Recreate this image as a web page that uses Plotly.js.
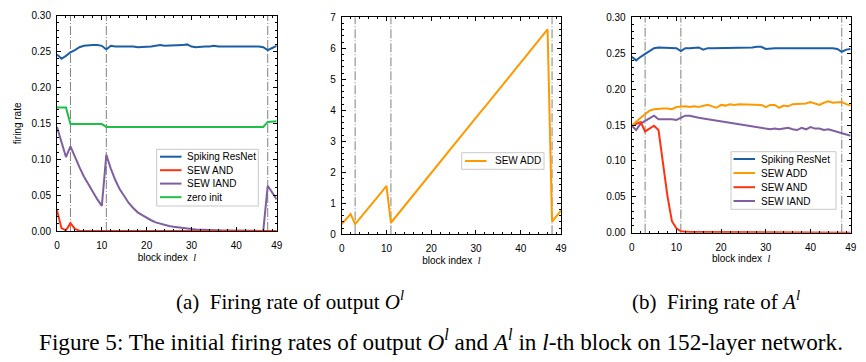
<!DOCTYPE html>
<html><head><meta charset="utf-8">
<script src="https://cdn.plot.ly/plotly-3.0.1.min.js"></script>
<style>html,body{margin:0;padding:0;background:#fff;} #chart{width:866px;height:362px;}</style>
</head><body><div id="chart"></div>
<script>
// ---------------- data ----------------
const blocks = [0,1,2,3,4,5,6,7,8,9,10,11,12,13,14,15,16,17,18,19,20,21,22,23,24,25,26,27,28,29,30,31,32,33,34,35,36,37,38,39,40,41,42,43,44,45,46,47,48,49];
const xTickVals = [0,10,20,30,40,49];
const stageBounds = [3,11,47];

// (a) firing rate of output O^l
const resnetO = [0.246,0.240,0.244,0.249,0.252,0.256,0.258,0.259,0.259,0.259,0.258,0.253,0.258,0.257,0.257,0.257,0.258,0.257,0.256,0.256,0.257,0.257,0.258,0.259,0.258,0.258,0.258,0.258,0.259,0.260,0.257,0.256,0.257,0.257,0.257,0.258,0.257,0.257,0.258,0.257,0.258,0.258,0.258,0.257,0.257,0.257,0.256,0.252,0.255,0.258];
const andO = [0.029,0.004,0.001,0.011,0.003,0.0005,0,0,0,0,0,0,0,0,0,0,0,0,0,0,0,0,0,0,0,0,0,0,0,0,0,0,0,0,0,0,0,0,0,0,0,0,0,0,0,0,0,0,0,0];
const iandO = [0.145,0.124,0.103,0.118,0.103,0.089,0.076,0.065,0.054,0.044,0.035,0.106,0.087,0.071,0.058,0.048,0.039,0.032,0.026,0.022,0.018,0.015,0.012,0.010,0.008,0.007,0.006,0.005,0.004,0.0033,0.0027,0.0022,0.0018,0.0015,0.0012,0.001,0.0008,0.0007,0.0006,0.0005,0.0004,0.0003,0.0003,0.0002,0.0002,0.0001,0.0001,0.063,0.053,0.044];
const zeroInitO = [0.172,0.172,0.172,0.149,0.149,0.149,0.149,0.149,0.149,0.149,0.149,0.145,0.145,0.145,0.145,0.145,0.145,0.145,0.145,0.145,0.145,0.145,0.145,0.145,0.145,0.145,0.145,0.145,0.145,0.145,0.145,0.145,0.145,0.145,0.145,0.145,0.145,0.145,0.145,0.145,0.145,0.145,0.145,0.145,0.145,0.145,0.145,0.152,0.153,0.153];
const addO = [0.33,0.49,0.65,0.33,0.50,0.68,0.85,1.03,1.20,1.38,1.56,0.37,0.55,0.73,0.91,1.08,1.26,1.44,1.62,1.80,1.97,2.15,2.33,2.51,2.69,2.87,3.04,3.22,3.40,3.58,3.76,3.94,4.11,4.29,4.47,4.65,4.83,5.01,5.18,5.36,5.54,5.72,5.90,6.08,6.25,6.43,6.61,0.41,0.59,0.76];

// (b) firing rate of A^l
const resnetA = [0.245,0.240,0.245,0.249,0.254,0.257,0.258,0.258,0.258,0.258,0.257,0.253,0.257,0.257,0.257,0.258,0.255,0.257,0.257,0.257,0.258,0.258,0.258,0.258,0.258,0.258,0.258,0.258,0.259,0.259,0.256,0.257,0.257,0.257,0.257,0.257,0.257,0.258,0.257,0.258,0.258,0.258,0.257,0.257,0.257,0.257,0.256,0.252,0.255,0.256];
const addA = [0.149,0.155,0.160,0.165,0.170,0.172,0.173,0.173,0.173,0.172,0.175,0.176,0.176,0.175,0.176,0.175,0.177,0.178,0.176,0.174,0.178,0.177,0.179,0.178,0.179,0.179,0.178,0.178,0.179,0.178,0.175,0.178,0.178,0.174,0.177,0.176,0.179,0.179,0.180,0.180,0.182,0.180,0.178,0.181,0.183,0.181,0.181,0.182,0.179,0.177];
const andA = [0.149,0.152,0.154,0.141,0.145,0.149,0.143,0.097,0.051,0.016,0.006,0.002,0.001,0.001,0.001,0.001,0.001,0.001,0.001,0.001,0.001,0.001,0,0,0,0,0,0,0,0,0,0,0,0,0,0,0,0,0,0,0,0,0,0,0,0,0,0,0,0];
const iandA = [0.149,0.143,0.152,0.156,0.160,0.163,0.158,0.158,0.159,0.158,0.157,0.160,0.163,0.163,0.161,0.160,0.159,0.158,0.157,0.155,0.154,0.154,0.153,0.151,0.150,0.149,0.148,0.148,0.147,0.146,0.145,0.144,0.145,0.144,0.145,0.146,0.144,0.143,0.146,0.144,0.147,0.145,0.145,0.143,0.144,0.142,0.141,0.139,0.136,0.135];

const legendO = ["Spiking ResNet","SEW AND","SEW IAND","zero init"];
const legendAdd = ["SEW ADD"];
const legendA = ["Spiking ResNet","SEW ADD","SEW AND","SEW IAND"];

const captionA = "(a)  Firing rate of output <i>O</i><sup><i>l</i></sup>";
const captionB = "(b)  Firing rate of <i>A</i><sup><i>l</i></sup>";
const figCaption = "Figure 5: The initial firing rates of output <i>O</i><sup><i>l</i></sup> and <i>A</i><sup><i>l</i></sup> in <i>l</i>-th block on 152-layer network.";

// ---------------- styling ----------------
const COL = {"Spiking ResNet":"#1b5ea6","SEW AND":"#ff3311","SEW IAND":"#7f5f9f","zero init":"#1fbf48","SEW ADD":"#ff9900"};
const W = 866, H = 362;
const SANS = "Liberation Sans, Arial, sans-serif";
const SERIF = "Liberation Serif, Times New Roman, serif";
const fx = p => p / W, fy = p => 1 - p / H;

function line(x, y, name, xa, ya) {
  return {x: x, y: y, name: name, type: "scatter", mode: "lines", xaxis: xa, yaxis: ya,
          line: {color: COL[name], width: 2}, showlegend: false, hoverinfo: "skip"};
}
const data = [
  line(blocks, zeroInitO, "zero init", "x", "y"),
  line(blocks, iandO, "SEW IAND", "x", "y"),
  line(blocks, andO, "SEW AND", "x", "y"),
  line(blocks, resnetO, "Spiking ResNet", "x", "y"),
  line(blocks, addO, "SEW ADD", "x2", "y2"),
  line(blocks, iandA, "SEW IAND", "x3", "y3"),
  line(blocks, andA, "SEW AND", "x3", "y3"),
  line(blocks, addA, "SEW ADD", "x3", "y3"),
  line(blocks, resnetA, "Spiking ResNet", "x3", "y3")
];

const xTitle = "block index  <span style=\"font-family:Liberation Serif\"><i>l</i></span>";
function xaxis(left, right, anchor) {
  return {domain: [fx(left), fx(right)], anchor: anchor, range: [0, 49], tickvals: xTickVals,
    ticks: "inside", ticklen: 4, tickcolor: "#000", minor: {dtick: 2, tick0: 0, ticklen: 2, ticks: "inside", tickcolor: "#000"},
    showline: true, linecolor: "#000", linewidth: 1, mirror: "allticks", showgrid: false, zeroline: false,
    tickfont: {family: SANS, size: 10, color: "#000"}, ticklabelstandoff: 5,
    title: {text: xTitle, font: {family: SANS, size: 10, color: "#000"}, standoff: 3}, automargin: false, fixedrange: true};
}
function yaxis(top, bottom, anchor, range, dtick, minor, fmt, title) {
  const a = {domain: [fy(bottom), fy(top)], anchor: anchor, range: range, dtick: dtick, tick0: 0,
    ticks: "inside", ticklen: 4, tickcolor: "#000", minor: {dtick: minor, ticklen: 2, ticks: "inside", tickcolor: "#000"},
    showline: true, linecolor: "#000", linewidth: 1, mirror: "allticks", showgrid: false, zeroline: false,
    tickfont: {family: SANS, size: 10, color: "#000"}, tickformat: fmt, ticklabelstandoff: 3,
    automargin: false, fixedrange: true};
  if (title) a.title = {text: title, font: {family: SANS, size: 10, color: "#000"}, standoff: 8};
  return a;
}

const shapes = [];
const annotations = [];
[["x","y"],["x2","y2"],["x3","y3"]].forEach(([xa, ya]) => {
  stageBounds.forEach(b => shapes.push({type: "line", xref: xa, yref: ya + " domain", x0: b, x1: b, y0: 0, y1: 1,
    layer: "below", line: {color: "#808080", width: 1, dash: "9px,2px,1px,2px"}}));
});

// legends drawn as boxes with sample lines and text labels
function legendBox(names, box, lineX0, lineX1, textX, rowY) {
  shapes.push({type: "rect", xref: "paper", yref: "paper", x0: fx(box[0]), x1: fx(box[2]), y0: fy(box[3]), y1: fy(box[1]),
    fillcolor: "#fff", line: {color: "#c8c8c8", width: 1}, layer: "above"});
  names.forEach((n, i) => {
    const y = rowY[i];
    shapes.push({type: "line", xref: "paper", yref: "paper", x0: fx(lineX0), x1: fx(lineX1), y0: fy(y), y1: fy(y),
      line: {color: COL[n], width: 2}, layer: "above"});
    annotations.push({xref: "paper", yref: "paper", x: fx(textX), y: fy(y), xanchor: "left", yanchor: "middle",
      text: n, showarrow: false, borderpad: 0, font: {family: SANS, size: 10, color: "#000"}});
  });
}
legendBox(legendO, [156.7, 149.3, 258.3, 206], 160, 181.5, 185.5, [156.7, 170.2, 183.6, 197.2]);
legendBox(legendAdd, [461.7, 152.7, 544, 169.3], 465, 486.5, 493.5, [161]);
legendBox(legendA, [731, 151.7, 836, 209.3], 733.5, 755, 760, [159, 173, 187.2, 201]);

annotations.push({xref: "paper", yref: "paper", x: fx(290), y: fy(300), xanchor: "center", yanchor: "middle",
  text: captionA, showarrow: false, font: {family: SERIF, size: 21, color: "#000"}});
annotations.push({xref: "paper", yref: "paper", x: fx(716), y: fy(300), xanchor: "center", yanchor: "middle",
  text: captionB, showarrow: false, font: {family: SERIF, size: 21, color: "#000"}});
annotations.push({xref: "paper", yref: "paper", x: fx(441), y: fy(340), xanchor: "center", yanchor: "middle",
  text: figCaption, showarrow: false, font: {family: SERIF, size: 23.2, color: "#000"}});

const layout = {
  width: W, height: H, margin: {l: 0, r: 0, t: 0, b: 0}, paper_bgcolor: "#fff", plot_bgcolor: "#fff",
  showlegend: false,
  xaxis: xaxis(57, 276.7, "y"),
  yaxis: yaxis(15.7, 231, "x", [0, 0.30], 0.05, 0.01, ".2f", "firing rate"),
  xaxis2: xaxis(341.7, 561, "y2"),
  yaxis2: yaxis(17.3, 234.3, "x2", [0, 7], 1, 0.2, "d", null),
  xaxis3: xaxis(631.7, 850.7, "y3"),
  yaxis3: yaxis(17.3, 232.7, "x3", [0, 0.30], 0.05, 0.01, ".2f", null),
  shapes: shapes, annotations: annotations
};
Plotly.newPlot("chart", data, layout, {staticPlot: true, displayModeBar: false});
</script></body></html>
